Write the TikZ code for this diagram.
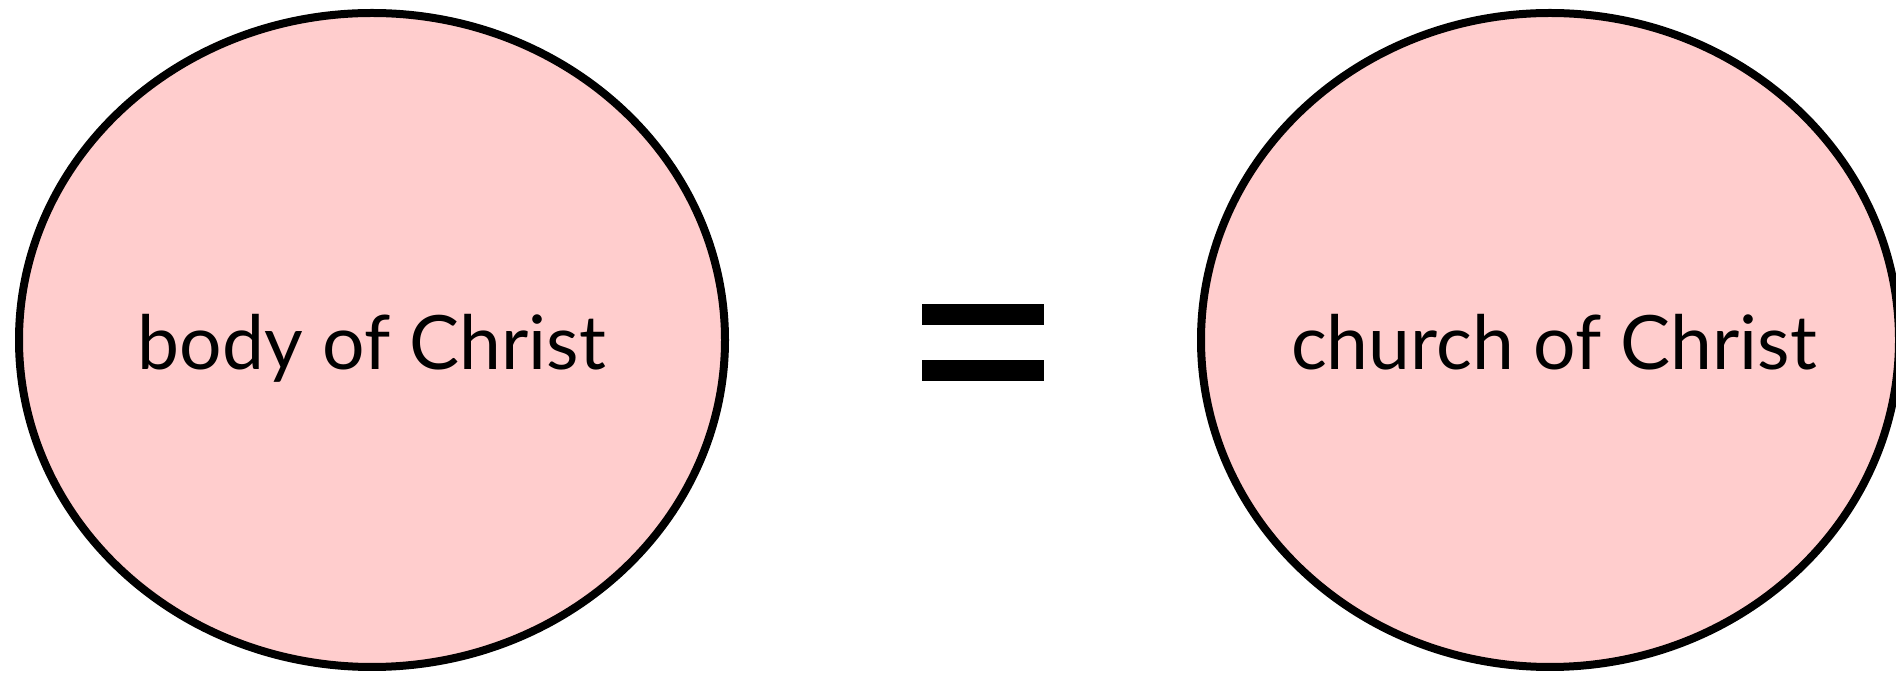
\documentclass[tikz,border=0pt]{standalone}
\usepackage{fontspec}
\setmainfont{Lato}
\definecolor{blobpink}{RGB}{255,205,205}
\begin{document}
\begin{tikzpicture}[x=1pt,y=1pt,
  blob/.style={draw=black,line width=8pt,fill=blobpink},
  lbl/.style={anchor=base,inner sep=0pt,font=\fontsize{75}{85}\selectfont},
  bar/.style={fill=black,draw=none}]
\useasboundingbox (0,0) rectangle (1896,677);
\fill[white] (0,0) rectangle (1896,677);
\draw[blob] (372,337) ellipse [x radius=353,y radius=327];
\draw[blob] (1550,337) ellipse [x radius=349,y radius=327];
\node[lbl] (body) at (372,307) {body of Christ};
\node[lbl] (church) at (1554,307) {church of Christ};
\fill[bar] (922,352) rectangle (1044,373);
\fill[bar] (922,296) rectangle (1044,317);
\end{tikzpicture}
\end{document}
